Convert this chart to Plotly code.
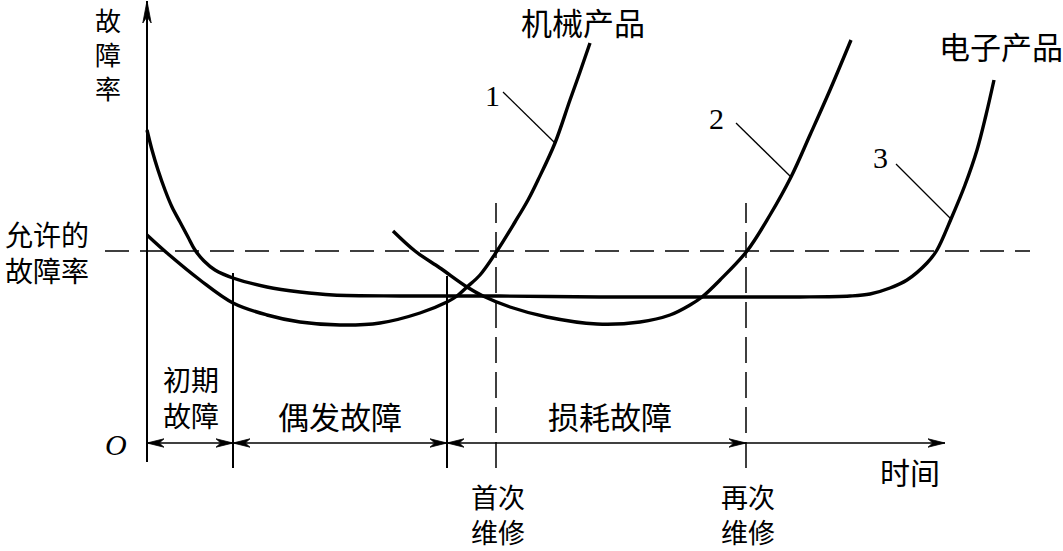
import plotly.graph_objects as go

# ---------------- data (time, failure-rate units; origin = 0,0) ----------------
# Curve 3 (electronic products) including the early-failure decay
elec_t = [0, 5, 11, 18, 25, 33, 41, 48, 57, 68, 86, 120, 153, 186, 253, 353, 453, 553, 653, 703, 723, 743, 760, 780, 790, 804, 818, 830, 839, 847]
elec_r = [313, 293, 273, 253, 236, 221, 206, 193, 182, 173, 165, 156, 151, 148, 147, 147, 146, 146, 146, 147, 149, 155, 163, 180, 193, 224, 258, 293, 328, 363]

# Curve 1 (mechanical products)
mech_t = [0, 20, 53, 86, 120, 153, 193, 233, 273, 300, 310, 320, 333, 350, 368, 381, 391, 408, 423, 433, 443]
mech_r = [208, 190, 163, 140, 128, 121, 118, 120, 130, 141, 147, 156, 168, 192, 221, 243, 263, 300, 343, 371, 400]

# Curve 2 (after first repair)
rep_t = [246, 268, 293, 320, 336, 363, 400, 450, 493, 523, 543, 555, 573, 600, 623, 644, 663, 683, 704]
rep_r = [212, 192, 175, 156, 147, 136, 126, 119, 121, 128, 138, 146, 163, 192, 228, 266, 308, 353, 403]

allowed_rate = 192
allowed_span = [-42, 883]

phase_bounds = [86, 300]          # end of early failure, end of random failure
phase_bound_tops = [170, 167]
repair_times = [349, 599]         # first repair, second repair
repair_top = 240
axis_bottom = -25
time_axis_end = 798
rate_axis_top = 442
rate_axis_bottom = -19

curve_labels = ["1", "2", "3"]
label_pos = [(345, 348), (569, 325), (733, 286)]
leader_start = [(356, 351), (589, 320), (749, 279)]
leader_end = [(408, 300), (644, 266), (804, 224)]

# ---------------- figure ----------------
OX, OY = 147, 443          # pixel position of origin
W, H = 1063, 551
fig = go.Figure()

def line(xs, ys, width=2, dash=None, shape="linear"):
    fig.add_trace(go.Scatter(x=xs, y=ys, mode="lines", hoverinfo="skip",
                             line=dict(color="black", width=width, dash=dash, shape=shape)))

def arrowhead(tx, ty, dx, dy, L=17, w=4.2):
    # barbed dart pointing in direction (dx,dy)
    px_, py_ = -dy, dx
    bx, by = tx - dx * L, ty - dy * L
    nx, ny = tx - dx * L * 0.72, ty - dy * L * 0.72
    xs = [tx, bx + px_ * w, nx, bx - px_ * w, tx]
    ys = [ty, by + py_ * w, ny, by - py_ * w, ty]
    fig.add_trace(go.Scatter(x=xs, y=ys, mode="lines", fill="toself", fillcolor="black",
                             hoverinfo="skip", line=dict(color="black", width=0.8)))

# curves
line(elec_t, elec_r, width=3.4, shape="spline")
line(mech_t, mech_r, width=3.4, shape="spline")
line(rep_t, rep_r, width=3.4, shape="spline")

# allowed failure-rate dashed line
line(allowed_span, [allowed_rate, allowed_rate], width=1.5, dash="24px,11px")

# axes
line([0, 0], [rate_axis_bottom, rate_axis_top], width=2)
arrowhead(0, rate_axis_top, 0, 1, L=22, w=4.2)
line([0, time_axis_end], [0, 0], width=1.4)

# phase boundaries
for b, top in zip(phase_bounds, phase_bound_tops):
    line([b, b], [axis_bottom, top], width=2)
for rt in repair_times:
    line([rt, rt], [axis_bottom, repair_top], width=1.5, dash="26px,9px")

# arrows along the time axis
segs = [(0, phase_bounds[0]), (phase_bounds[0], phase_bounds[1]), (phase_bounds[1], repair_times[1])]
for a, b in segs:
    arrowhead(a, 0, -1, 0)
    arrowhead(b, 0, 1, 0)
arrowhead(time_axis_end, 0, 1, 0)

# leader lines
for (sx, sy), (ex, ey) in zip(leader_start, leader_end):
    line([sx, ex], [sy, ey], width=1.3)

CJK = "Noto Sans CJK SC"
SERIF = "Liberation Serif"

def txt(s, x, y, size=30, family=CJK, xanchor="center"):
    fig.add_annotation(x=x, y=y, text=s, showarrow=False, xref="x", yref="y",
                       xanchor=xanchor, yanchor="middle", borderpad=0,
                       font=dict(family=family, size=size, color="black"))

def px(xp, yp):
    return xp - OX, OY - yp

for lab, (lx, ly) in zip(curve_labels, label_pos):
    txt(lab, lx, ly, size=30, family=SERIF)

txt("故<br>障<br>率", *px(108, 53), size=26)
txt("机械产品", *px(583, 21), size=31)
txt("电子产品", *px(1001, 45), size=31)
txt("允许的<br>故障率", *px(47, 252), size=28)
txt("初期<br>故障", *px(191, 397), size=28)
txt("偶发故障", *px(340, 415), size=31)
txt("损耗故障", *px(610, 415), size=31)
txt("<i>O</i>", *px(116, 444), size=30, family=SERIF)
txt("时间", *px(910, 471), size=30)
txt("首次<br>维修", *px(498, 514), size=27)
txt("再次<br>维修", *px(748, 514), size=27)

fig.update_layout(
    width=W, height=H, autosize=False,
    margin=dict(l=0, r=0, t=0, b=0),
    paper_bgcolor="white", plot_bgcolor="white",
    showlegend=False,
    xaxis=dict(range=[-OX, W - OX], visible=False, fixedrange=True),
    yaxis=dict(range=[OY - H, OY], visible=False, fixedrange=True),
)
fig.write_html(
    "out.html",
    config={"displayModeBar": False},
    post_script="document.body.style.margin='0';document.body.style.padding='0';document.body.style.overflow='hidden';",
)
